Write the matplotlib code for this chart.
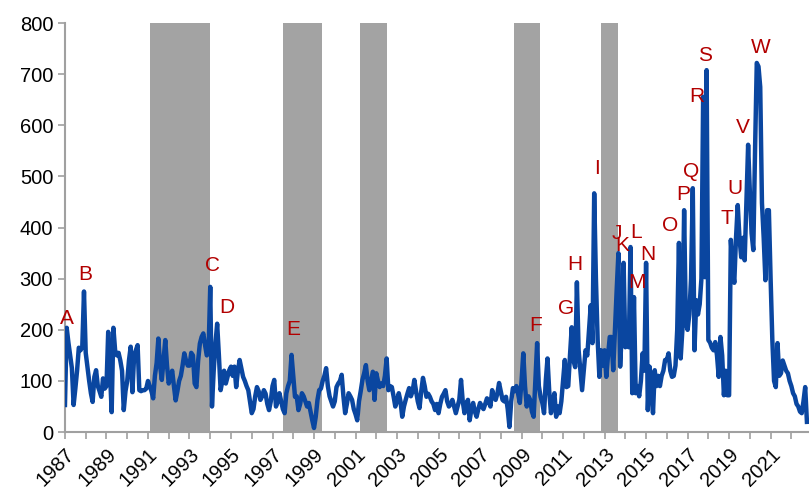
import numpy as np
import matplotlib
matplotlib.use('Agg')
import matplotlib.pyplot as plt

plt.rcParams['font.family'] = ['Liberation Sans', 'DejaVu Sans']

# monthly values, one row per year (Jan..Dec)
v1987 = [53, 204, 175, 150, 125, 53, 85, 120, 165, 160, 166, 275]
v1988 = [155, 128, 100, 76, 59, 108, 121, 90, 80, 69, 105, 85]
v1989 = [90, 196, 120, 39, 204, 160, 150, 155, 140, 120, 43, 80]
v1990 = [100, 140, 167, 78, 150, 160, 170, 82, 80, 82, 82, 85]
v1991 = [100, 90, 80, 66, 110, 135, 183, 130, 102, 140, 180, 130]
v1992 = [95, 110, 120, 90, 62, 80, 100, 110, 130, 154, 140, 130]
v1993 = [130, 155, 150, 95, 88, 140, 173, 186, 193, 170, 150, 155]
v1994 = [284, 50, 120, 173, 212, 150, 82, 100, 120, 95, 108, 121]
v1995 = [128, 110, 128, 88, 120, 141, 125, 108, 100, 90, 82, 60]
v1996 = [37, 45, 70, 88, 80, 63, 70, 82, 75, 55, 43, 60]
v1997 = [90, 102, 50, 60, 76, 60, 45, 37, 76, 90, 100, 151]
v1998 = [110, 69, 70, 43, 55, 76, 70, 60, 50, 57, 40, 23]
v1999 = [8, 30, 63, 82, 85, 100, 110, 125, 90, 70, 60, 50]
v2000 = [60, 88, 95, 100, 112, 70, 37, 55, 76, 70, 63, 45]
v2001 = [35, 23, 60, 80, 102, 115, 131, 100, 82, 100, 118, 63]
v2002 = [115, 100, 88, 95, 90, 110, 144, 82, 90, 88, 70, 50]
v2003 = [60, 76, 60, 30, 50, 63, 75, 86, 70, 80, 102, 80]
v2004 = [60, 47, 80, 106, 90, 69, 75, 69, 60, 55, 43, 55]
v2005 = [37, 55, 69, 75, 82, 60, 50, 55, 63, 50, 37, 50]
v2006 = [63, 102, 60, 37, 55, 63, 23, 45, 57, 40, 30, 45]
v2007 = [57, 50, 45, 55, 66, 60, 50, 82, 70, 63, 75, 96]
v2008 = [80, 63, 60, 69, 45, 10, 60, 86, 80, 90, 75, 57]
v2009 = [100, 154, 90, 50, 70, 63, 40, 30, 100, 174, 90, 69]
v2010 = [57, 37, 100, 144, 80, 37, 60, 76, 30, 50, 37, 60]
v2011 = [100, 141, 88, 90, 150, 205, 140, 127, 293, 160, 120, 82]
v2012 = [120, 160, 150, 200, 248, 174, 467, 300, 180, 108, 160, 130]
v2013 = [160, 108, 150, 186, 186, 121, 200, 278, 350, 128, 200, 331]
v2014 = [166, 200, 166, 362, 76, 264, 76, 90, 70, 100, 154, 120]
v2015 = [331, 43, 128, 90, 37, 121, 90, 110, 90, 110, 120, 141]
v2016 = [141, 154, 120, 108, 110, 130, 200, 370, 144, 200, 434, 213]
v2017 = [200, 230, 300, 477, 160, 258, 230, 250, 300, 656, 303, 708]
v2018 = [180, 175, 165, 160, 176, 150, 108, 186, 150, 72, 120, 72]
v2019 = [72, 376, 320, 292, 380, 444, 380, 342, 380, 336, 450, 562]
v2020 = [470, 389, 356, 550, 722, 715, 675, 448, 380, 297, 434, 434]
v2021 = [300, 180, 100, 88, 174, 110, 115, 140, 130, 120, 115, 100]
v2022 = [90, 76, 70, 55, 50, 40, 37, 60, 88, 20]

values = (v1987 + v1988 + v1989 + v1990 + v1991 + v1992 + v1993 + v1994
          + v1995 + v1996 + v1997 + v1998 + v1999 + v2000 + v2001 + v2002
          + v2003 + v2004 + v2005 + v2006 + v2007 + v2008 + v2009 + v2010
          + v2011 + v2012 + v2013 + v2014 + v2015 + v2016 + v2017 + v2018
          + v2019 + v2020 + v2021 + v2022)
years = 1987 + np.arange(len(values)) / 12.0

# shaded periods (start, end) in years
bands = [(1991.1, 1994.0), (1997.5, 1999.4), (2001.2, 2002.5),
         (2008.65, 2009.9), (2012.85, 2013.65)]

# peak letters and where they sit (year, value)
letters = list('ABCDEFGHIJKLMNOPQRSTUVW')
letter_x = [1987.10, 1987.96, 1994.12, 1994.79, 1997.99, 2009.69, 2011.13,
            2011.57, 2012.63, 2013.59, 2013.83, 2014.50, 2014.55, 2015.08,
            2016.14, 2016.77, 2017.15, 2017.44, 2017.83, 2018.89, 2019.27,
            2019.66, 2020.53]
letter_y = [223, 309, 325, 243, 201, 209, 241, 327, 516, 388, 364, 391, 293,
            348, 405, 464, 509, 656, 736, 417, 476, 595, 753]

fig = plt.figure(figsize=(8.09, 4.91), dpi=100)
ax = fig.add_axes([0.0803, 0.12, 0.9197, 0.833])

for b0, b1 in bands:
    ax.axvspan(b0, b1, ymin=0, ymax=1, color='#a3a3a3', lw=0, zorder=1)

ax.plot(years, values, color='#0a46a0', lw=3.2, solid_joinstyle='round', zorder=3)

for t, lx, ly in zip(letters, letter_x, letter_y):
    ax.text(lx, ly, t, color='#b20000', fontsize=15, ha='center', va='center', zorder=4)

ax.set_xlim(1987, 2022.85)
ax.set_ylim(0, 800)
ax.set_yticks(range(0, 801, 100))
ax.set_xticks(range(1987, 2023))
ax.set_xticklabels([str(y) if (y - 1987) % 2 == 0 else '' for y in range(1987, 2023)],
                   rotation=45, ha='right', rotation_mode='anchor')

for s in ['top', 'right']:
    ax.spines[s].set_visible(False)
for s in ['left', 'bottom']:
    ax.spines[s].set_color('#a0a0a0')
    ax.spines[s].set_linewidth(1.5)
ax.tick_params(axis='both', colors='#a0a0a0', labelcolor='black', labelsize=14.5,
               length=5, width=1.2)
ax.tick_params(axis='x', pad=4)

fig.savefig('out.png', dpi=100)
